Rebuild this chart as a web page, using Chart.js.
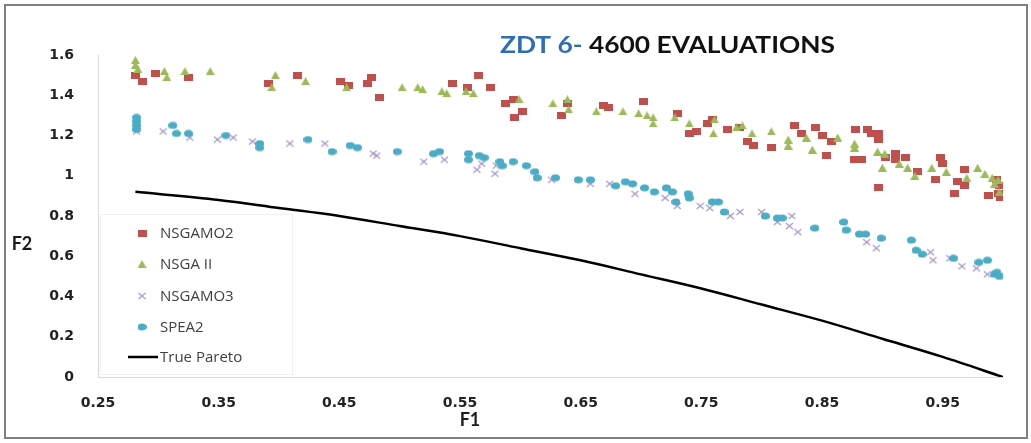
<!DOCTYPE html>
<html>
<head>
<meta charset="utf-8">
<script src="https://cdn.jsdelivr.net/npm/chart.js@4.4.0/dist/chart.umd.min.js"></script>
<style>
  html, body { margin: 0; padding: 0; background: #fff; }
</style>
</head>
<body>
<canvas id="myChart" width="1031" height="443"></canvas>
<script>
// values (F1 / F2)
const nsgamo2X = [0.281,0.287,0.298,0.325,0.391,0.415,0.451,0.458,0.473,0.477,0.483,0.544,0.556,0.565,0.575,0.588,0.594,0.602,0.595,0.634,0.639,0.669,0.673,0.702,0.730,0.740,0.746,0.755,0.759,0.772,0.782,0.788,0.793,0.808,0.827,0.833,0.845,0.850,0.858,0.854,0.878,0.877,0.883,0.888,0.891,0.897,0.897,0.903,0.911,0.911,0.919,0.929,0.948,0.950,0.944,0.897,0.960,0.962,0.968,0.968,0.988,0.996,0.997,0.998,0.995];
const nsgamo2Y = [1.50,1.47,1.51,1.49,1.46,1.50,1.47,1.45,1.46,1.49,1.39,1.46,1.44,1.50,1.44,1.36,1.38,1.32,1.29,1.30,1.36,1.35,1.34,1.37,1.31,1.21,1.22,1.26,1.28,1.23,1.24,1.17,1.15,1.14,1.25,1.21,1.24,1.20,1.17,1.10,1.23,1.08,1.08,1.23,1.21,1.21,1.18,1.09,1.11,1.08,1.09,1.02,1.09,1.06,0.98,0.94,0.91,0.97,1.03,0.95,0.90,0.91,0.95,0.89,0.98];

const nsga2X = [0.281,0.281,0.283,0.305,0.307,0.322,0.343,0.397,0.394,0.422,0.456,0.502,0.515,0.519,0.535,0.539,0.555,0.561,0.599,0.627,0.639,0.640,0.663,0.685,0.698,0.705,0.710,0.710,0.728,0.740,0.761,0.760,0.779,0.784,0.792,0.808,0.822,0.822,0.837,0.842,0.863,0.877,0.877,0.896,0.902,0.900,0.914,0.921,0.927,0.941,0.953,0.970,0.979,0.985,0.991,0.996,0.997,0.993];
const nsga2Y = [1.575,1.55,1.53,1.52,1.49,1.52,1.52,1.50,1.44,1.47,1.44,1.44,1.44,1.43,1.42,1.41,1.42,1.41,1.38,1.36,1.38,1.33,1.32,1.32,1.31,1.30,1.29,1.26,1.29,1.26,1.28,1.21,1.24,1.25,1.21,1.22,1.18,1.15,1.19,1.13,1.19,1.16,1.14,1.12,1.11,1.04,1.06,1.04,1.00,1.04,1.02,0.99,1.04,1.01,0.99,0.98,0.92,0.96];

const nsgamo3X = [0.282,0.304,0.326,0.349,0.362,0.378,0.409,0.438,0.478,0.481,0.520,0.537,0.564,0.568,0.579,0.580,0.626,0.658,0.674,0.695,0.720,0.730,0.749,0.757,0.774,0.782,0.800,0.813,0.825,0.823,0.830,0.887,0.895,0.940,0.942,0.956,0.966,0.978,0.987,0.999];
const nsgamo3Y = [1.22,1.22,1.19,1.18,1.19,1.17,1.16,1.16,1.11,1.10,1.07,1.08,1.03,1.06,1.01,1.05,0.98,0.96,0.96,0.91,0.89,0.85,0.85,0.84,0.80,0.82,0.82,0.77,0.80,0.75,0.72,0.67,0.64,0.62,0.58,0.59,0.55,0.54,0.51,0.51];

const spea2X = [0.282,0.282,0.282,0.282,0.312,0.315,0.325,0.356,0.384,0.384,0.424,0.444,0.459,0.465,0.498,0.528,0.533,0.557,0.557,0.566,0.570,0.583,0.585,0.594,0.605,0.612,0.614,0.629,0.648,0.658,0.679,0.687,0.693,0.703,0.711,0.721,0.726,0.729,0.739,0.740,0.759,0.764,0.769,0.803,0.813,0.817,0.844,0.868,0.870,0.881,0.886,0.899,0.924,0.928,0.933,0.959,0.980,0.987,0.993,0.997,0.995];
const spea2Y = [1.29,1.27,1.25,1.23,1.25,1.21,1.21,1.20,1.16,1.14,1.18,1.12,1.15,1.14,1.12,1.11,1.12,1.11,1.08,1.10,1.09,1.07,1.05,1.07,1.05,1.02,0.99,0.99,0.98,0.98,0.95,0.97,0.96,0.94,0.92,0.94,0.92,0.87,0.91,0.89,0.87,0.87,0.82,0.80,0.79,0.79,0.74,0.77,0.73,0.71,0.71,0.69,0.68,0.63,0.61,0.59,0.57,0.58,0.51,0.50,0.52];

const paretoX = [0.281,0.35,0.40,0.45,0.50,0.55,0.60,0.65,0.70,0.75,0.80,0.85,0.90,0.95,1.0];
const paretoY = [0.92,0.88,0.84,0.80,0.75,0.70,0.64,0.58,0.51,0.44,0.36,0.28,0.19,0.10,0];

const xTicks = [0.25,0.35,0.45,0.55,0.65,0.75,0.85,0.95];
const yTicks = [0,0.2,0.4,0.6,0.8,1,1.2,1.4,1.6];

const seriesNames = ['NSGAMO2','NSGA II','NSGAMO3','SPEA2','True Pareto'];

function pts(xs, ys) {
  return xs.map((x, i) => ({ x: x, y: ys[i] }));
}

// small canvases used as point markers
function marker(w, h, draw) {
  let c = document.createElement('canvas');
  c.width = w;
  c.height = h;
  draw(c.getContext('2d'), w, h);
  return c;
}

const redMark = marker(9, 7, (g, w, h) => {
  g.fillStyle = '#C0504D';
  g.fillRect(0, 0, w, h);
});
const greenMark = marker(9, 8, (g, w, h) => {
  g.fillStyle = '#9BBB59';
  g.beginPath();
  g.moveTo(w / 2, 0);
  g.lineTo(w, h);
  g.lineTo(0, h);
  g.closePath();
  g.fill();
});
const purpleMark = marker(9, 8, (g, w, h) => {
  g.strokeStyle = '#a593c6';
  g.lineWidth = 1.1;
  g.beginPath();
  g.moveTo(1, 1); g.lineTo(w - 1, h - 1);
  g.moveTo(w - 1, 1); g.lineTo(1, h - 1);
  g.stroke();
});
const blueMark = marker(9, 8, (g, w, h) => {
  g.fillStyle = '#4BACC6';
  g.beginPath();
  g.ellipse(w / 2, h / 2, w / 2, h / 2 - 0.5, 0, 0, Math.PI * 2);
  g.fill();
});
const markers = [redMark, greenMark, purpleMark, blueMark];

const tickFont = { family: 'DejaVu Sans', size: 14, weight: 'bold' };

// background, frame, titles and the legend box are drawn by hand
const decor = {
  id: 'decor',
  beforeDraw(chart) {
    const ctx = chart.ctx;
    ctx.save();
    ctx.fillStyle = '#fff';
    ctx.fillRect(0, 0, chart.width, chart.height);
    ctx.restore();
  },
  afterDraw(chart) {
    const ctx = chart.ctx;
    ctx.save();

    // outer frame
    ctx.strokeStyle = '#808080';
    ctx.lineWidth = 2;
    ctx.strokeRect(5, 5, chart.width - 9, chart.height - 10);

    // title in two colours
    ctx.font = 'bold 23px Lato';
    ctx.textBaseline = 'middle';
    ctx.textAlign = 'left';
    const p1 = 'ZDT 6- ';
    const p2 = '4600 EVALUATIONS';
    const w1 = ctx.measureText(p1).width;
    const w2 = ctx.measureText(p2).width;
    const sx = 335 / (w1 + w2);
    ctx.save();
    ctx.translate(500, 46);
    ctx.scale(sx, 1);
    ctx.fillStyle = '#2F6EB5';
    ctx.fillText(p1, 0, 0);
    ctx.fillStyle = '#111';
    ctx.fillText(p2, w1, 0);
    ctx.restore();

    // axis titles
    ctx.font = 'bold 18px Lato';
    ctx.fillStyle = '#1a1a1a';
    ctx.textAlign = 'center';
    ctx.fillText('F1', 470, 420);
    ctx.fillText('F2', 22, 244);

    // legend
    ctx.strokeStyle = '#f0f0f0';
    ctx.lineWidth = 1;
    ctx.strokeRect(100.5, 214.5, 192, 160);
    ctx.font = '15px "Open Sans"';
    ctx.fillStyle = '#404040';
    ctx.textAlign = 'left';
    const rows = [233, 264, 296, 327, 357];
    for (let i = 0; i < seriesNames.length; i++) {
      if (i < 4) {
        let m = markers[i];
        ctx.drawImage(m, 142 - m.width / 2, rows[i] - m.height / 2);
      } else {
        ctx.strokeStyle = '#000';
        ctx.lineWidth = 2.5;
        ctx.beginPath();
        ctx.moveTo(128, rows[i]);
        ctx.lineTo(158, rows[i]);
        ctx.stroke();
      }
      ctx.fillText(seriesNames[i], 160, rows[i] + 1);
    }
    ctx.restore();
  }
};

const ctx = document.getElementById('myChart');
let myChart = new Chart(ctx, {
  type: 'scatter',
  data: {
    datasets: [
      { label: seriesNames[0], data: pts(nsgamo2X, nsgamo2Y), pointStyle: redMark, order: 5 },
      { label: seriesNames[1], data: pts(nsga2X, nsga2Y), pointStyle: greenMark, order: 4 },
      { label: seriesNames[2], data: pts(nsgamo3X, nsgamo3Y), pointStyle: purpleMark, order: 3 },
      { label: seriesNames[3], data: pts(spea2X, spea2Y), pointStyle: blueMark, order: 2 },
      {
        label: seriesNames[4], data: pts(paretoX, paretoY), showLine: true,
        borderColor: '#000', borderWidth: 2.5, pointRadius: 0,
        cubicInterpolationMode: 'monotone', order: 1
      }
    ]
  },
  options: {
    responsive: false,
    animation: false,
    devicePixelRatio: 1,
    layout: { padding: { top: 55, right: 28, left: 0, bottom: 0 } },
    plugins: {
      legend: { display: false },
      tooltip: { enabled: false }
    },
    scales: {
      x: {
        type: 'linear',
        min: 0.25,
        max: 1.0,
        afterBuildTicks: (s) => { s.ticks = xTicks.map(v => ({ value: v })) },
        afterFit: (s) => { s.height = 66 },
        grid: { display: false, drawTicks: false },
        border: { display: true, color: '#d9d9d9', width: 1 },
        ticks: {
          padding: 18, font: tickFont, color: '#222',
          maxRotation: 0, autoSkip: false,
          callback: (v) => Number(v).toFixed(2)
        }
      },
      y: {
        min: 0,
        max: 1.6,
        afterBuildTicks: (s) => { s.ticks = yTicks.map(v => ({ value: v })) },
        afterFit: (s) => { s.width = 98 },
        grid: { display: false, drawTicks: false },
        border: { display: true, color: '#d9d9d9', width: 1 },
        ticks: {
          padding: 24, font: tickFont, color: '#222',
          callback: (v) => String(Math.round(v * 10) / 10)
        }
      }
    }
  },
  plugins: [decor]
});
</script>
</body>
</html>
